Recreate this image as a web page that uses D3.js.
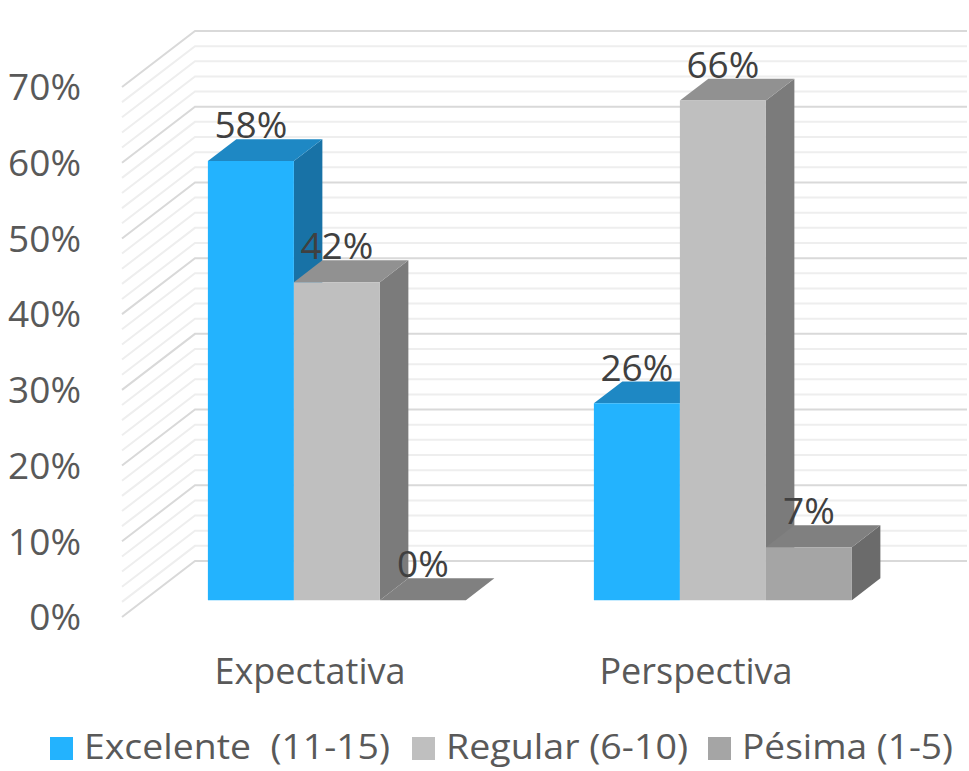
<!DOCTYPE html>
<html>
<meta charset="utf-8">
<head>
    <title>Expectativa y Perspectiva</title>
    <script src="https://d3js.org/d3.v7.min.js" charset="utf-8"></script>
    <style>
    body { margin: 0; background: #fff; }
    text { font-family: "Open Sans", sans-serif; }
    </style>
</head>
<body>
    <script>

    // Data
    var categories = ["Expectativa", "Perspectiva"];
    var seriesNames = ["Excelente  (11-15)", "Regular (6-10)", "Pésima (1-5)"];
    var excelente = [58, 26];
    var regular = [42, 66];
    var pesima = [0, 7];
    var yTicks = [0, 10, 20, 30, 40, 50, 60, 70];

    var width = 969;
    var height = 771;

    var svg = d3.select("body")
        .append("svg")
        .attr("width", width)
        .attr("height", height);

    // Face colours per series: front, top, side
    var colors = [
        { front: "#23B3FE", top: "#1E88C4", side: "#1872A6" },
        { front: "#BFBFBF", top: "#919191", side: "#7B7B7B" },
        { front: "#A5A5A5", top: "#808080", side: "#6B6B6B" }
    ];

    // Scales (front plane of the wall) and the depth vector
    var y = d3.scaleLinear().domain([0, 70]).range([617, 87]);
    var depthX = 73, depthY = -56;
    var x0 = d3.scaleBand().domain(categories).range([122, 894]);
    var x1 = d3.scaleBand().domain(seriesNames)
        .range([0, x0.bandwidth()])
        .paddingInner(0)
        .paddingOuter(0.744);

    function P(x, v, z) {
        return [x + z * depthX, y(v) + z * depthY];
    }
    function poly(pts) {
        return pts.map(function(p) { return p[0] + "," + p[1]; }).join(" ");
    }

    // Gridlines on the side and back walls (every 2%)
    var grid = svg.append("g");
    d3.range(0, 71, 2).forEach(function(v) {
        var major = v % 10 === 0;
        var a = P(122, v, 0), b = P(122, v, 1), c = P(894, v, 1);
        grid.append("polyline")
            .attr("points", poly([a, b, c]))
            .attr("fill", "none")
            .attr("stroke", major ? "#D9D9D9" : "#EEEEEE")
            .attr("stroke-width", 2);
    });

    // Y axis labels
    svg.append("g").selectAll("text")
        .data(yTicks)
        .enter()
        .append("text")
        .attr("x", 81)
        .attr("y", function(d) { return y(d); })
        .attr("dy", "0.36em")
        .attr("text-anchor", "end")
        .attr("font-size", 37)
        .attr("fill", "#595959")
        .text(function(d) { return d + "%"; });

    // Bars
    var values = [excelente, regular, pesima];
    var zf = 0.30, zb = 0.69;
    var bars = svg.append("g");
    var labels = [];
    categories.forEach(function(cat, ci) {
        seriesNames.forEach(function(s, si) {
            var v = values[si][ci];
            var x = x0(cat) + x1(s);
            var w = x1.bandwidth();
            var col = colors[si];
            bars.append("polygon")
                .attr("points", poly([P(x + w, 0, zf), P(x + w, 0, zb), P(x + w, v, zb), P(x + w, v, zf)]))
                .attr("fill", col.side);
            bars.append("polygon")
                .attr("points", poly([P(x, v, zf), P(x + w, v, zf), P(x + w, v, zb), P(x, v, zb)]))
                .attr("fill", col.top);
            bars.append("polygon")
                .attr("points", poly([P(x, 0, zf), P(x + w, 0, zf), P(x + w, v, zf), P(x, v, zf)]))
                .attr("fill", col.front);
            var top = P(x + w / 2, v, zb);
            labels.push({ x: x + w / 2 + zf * depthX, y: top[1] - 1, text: v + "%" });
        });
    });

    // Data labels
    svg.append("g").selectAll("text")
        .data(labels)
        .enter()
        .append("text")
        .attr("x", function(d) { return d.x; })
        .attr("y", function(d) { return d.y; })
        .attr("text-anchor", "middle")
        .attr("font-size", 37)
        .attr("fill", "#404040")
        .text(function(d) { return d.text; });

    // Category labels
    svg.append("g").selectAll("text")
        .data(categories)
        .enter()
        .append("text")
        .attr("x", function(d) { return x0(d) + x0.bandwidth() / 2 - 5; })
        .attr("y", 684)
        .attr("text-anchor", "middle")
        .attr("font-size", 36)
        .attr("fill", "#595959")
        .text(function(d) { return d; });

    // Legend
    var legendX = [50, 412, 708];
    var legendW = [306, 242, 211];
    var legend = svg.append("g");
    seriesNames.forEach(function(s, i) {
        legend.append("rect")
            .attr("x", legendX[i])
            .attr("y", 737)
            .attr("width", 23)
            .attr("height", 23)
            .attr("fill", colors[i].front);
        legend.append("text")
            .attr("x", legendX[i] + 34)
            .attr("y", 759)
            .attr("font-size", 34)
            .attr("fill", "#595959")
            .attr("textLength", legendW[i])
            .attr("lengthAdjust", "spacingAndGlyphs")
            .style("white-space", "pre")
            .text(s);
    });
    </script>
</body>
</html>
